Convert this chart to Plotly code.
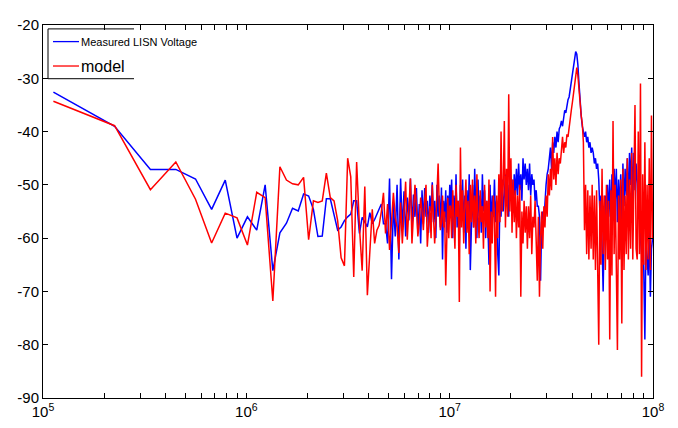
import numpy as np
import plotly.graph_objects as go

# ---------------- data ----------------
BIN_HZ = 112500                      # FFT bin spacing of the spectrum
low_bins = list(range(1, 90))        # individual bins up to ~10 MHz

measured_low = [
    -32.6, -39.0, -47.1, -47.1, -48.9, -54.6, -49.1, -60.0, -56.0, -58.5,
    -50.0, -66.1, -59.0, -57.2, -54.4, -54.9, -51.7, -52.1, -54.6, -59.7,
    -59.6, -52.6, -52.6, -55.5, -58.5, -57.9, -56.7, -56.0, -55.5, -53.0,
    -53.0, -59.1, -56.1, -57.0, -57.9, -55.2, -57.3, -56.5, -55.5, -54.5,
    -53.6, -57.3, -57.3, -61.0, -48.8, -67.7, -53.6, -59.7, -50.0, -64.0,
    -48.8, -58.5, -51.2, -59.7, -52.4, -56.7, -48.8, -57.9, -51.8, -56.0,
    -50.6, -59.1, -53.6, -61.0, -51.0, -57.3, -50.6, -56.0, -53.0, -59.0,
    -52.0, -55.0, -49.5, -57.0, -53.0, -60.0, -50.0, -56.0, -52.0, -58.0,
    -50.5, -64.0, -53.0, -57.0, -51.0, -59.0, -52.0, -56.0, -50.0,
]
model_low = [
    -34.3, -38.9, -50.9, -45.7, -52.7, -60.9, -55.3, -56.2, -61.3, -51.4,
    -52.4, -71.8, -46.6, -49.1, -49.8, -50.0, -48.6, -60.3, -53.0, -53.3,
    -53.0, -47.8, -52.4, -53.0, -56.7, -63.7, -65.2, -45.0, -48.5, -67.3,
    -45.7, -57.9, -66.1, -50.3, -70.7, -62.0, -54.6, -61.0, -58.5, -57.6,
    -55.0, -51.5, -59.1, -53.6, -62.2, -57.0, -51.5, -56.1, -58.0, -62.8,
    -53.3, -61.0, -55.0, -49.4, -60.3, -54.0, -48.8, -61.0, -56.0, -50.0,
    -54.0, -59.7, -57.0, -52.4, -55.0, -58.5, -53.0, -50.0, -61.6, -57.0,
    -54.0, -60.0, -50.0, -56.0, -61.0, -57.0, -52.0, -46.0, -54.0, -58.5,
    -57.0, -52.0, -58.0, -55.0, -68.9, -58.0, -52.4, -60.0, -54.0,
]

# dense part of the spectrum, 10 MHz .. 100 MHz (log-spaced samples)
HIGH_START_HZ = 1.01e7
HIGH_STOP_HZ = 9.95e7
measured_high = [
    -55, -49, -60, -52, -57, -48, -58, -53, -61, -50,
    -56, -49, -59, -52, -62, -51, -57, -48, -66, -54,
    -50, -58, -47, -55, -60, -49, -56, -52, -59, -48,
    -55, -51, -60, -53, -57, -65, -50, -58, -52, -56,
    -49, -57, -53, -63, -67, -51, -56, -49, -55, -52,
    -48, -54, -50, -56, -47, -53, -49, -55, -48, -52,
    -47, -52, -46, -51, -48, -53, -45, -49, -46, -50,
    -47, -51, -46, -52, -48, -50, -49, -53, -51, -54,
    -54, -56, -68, -57, -55, -57, -53, -50, -48, -47,
    -45, -43, -47, -42, -44, -41, -43, -40, -42, -39.5,
    -39, -38, -39, -37, -36, -36.5, -35, -34, -33.5, -32,
    -31, -29, -27.5, -26, -25, -25.5, -27.5, -31, -35, -37,
    -39, -40, -41, -40, -42, -41, -43, -42, -44, -43,
    -44, -46, -45, -47, -46, -49, -55, -52, -60, -70,
    -57, -52, -60, -50, -56, -49, -58, -48, -55, -47,
    -53, -47, -57, -49, -55, -48, -58, -46, -54, -47,
    -52, -45, -55, -44, -50, -43, -54, -44, -51, -46,
    -50, -56, -49, -60, -63, -55, -66, -79, -60, -64,
    -67, -58, -71, -62, -60,
]
model_high = [
    -54, -60, -51, -57, -62, -50, -56, -53, -72, -43,
    -58, -51, -61, -54, -49, -59, -53, -63, -50, -57,
    -49, -58, -52, -61, -48, -56, -60, -51, -57, -54,
    -62, -50, -58, -53, -60, -49, -70, -55, -61, -52,
    -56, -71, -52, -60, -48, -57, -40, -55, -50, -38,
    -58, -47, -56, -33, -55, -45, -59, -49, -57, -51,
    -60, -52, -58, -50, -71, -55, -61, -53, -59, -54,
    -62, -54, -60, -52, -63, -56, -58, -53, -61, -68,
    -56, -71, -60, -55, -62, -54, -58, -52, -56, -48,
    -52, -47, -51, -41, -49, -45, -50, -44, -48, -45,
    -46, -43, -41, -44, -42, -43, -40.5, -41, -39, -38,
    -36, -34.5, -33, -31, -29, -28, -29.5, -31.5, -34.5, -37,
    -38.5, -42, -58.5, -50, -63, -51, -64, -52, -62, -50,
    -64, -52, -66, -51, -63, -80, -53, -65, -47, -63,
    -52, -66, -50, -64, -53, -79, -51, -67, -38, -63,
    -50, -65, -81, -52, -64, -49, -76, -47, -66, -52,
    -63, -45, -64, -49, -62, -44, -64, -50, -35, -62,
    -64, -40, -63, -31, -86, -48, -65, -42, -66, -50,
    -64, -45, -66, -37, -60,
]

series_names = ["Measured LISN Voltage", "model"]
x_major = [1e5, 1e6, 1e7, 1e8]
x_major_labels = ["10<sup>5</sup>", "10<sup>6</sup>", "10<sup>7</sup>", "10<sup>8</sup>"]
x_minor_mult = [2, 3, 4, 5, 6, 7, 8, 9]
y_ticks = [-90, -80, -70, -60, -50, -40, -30, -20]

# ---------------- build ----------------
freq = np.concatenate([
    np.array(low_bins) * BIN_HZ,
    np.geomspace(HIGH_START_HZ, HIGH_STOP_HZ, len(measured_high)),
])
measured = measured_low + measured_high
model = model_low + model_high

BLUE = "#0000ff"
RED = "#ff0000"
FONT = "Liberation Sans, Arial, sans-serif"
LW = 1.5

fig = go.Figure()
fig.add_trace(go.Scatter(x=freq, y=measured, mode="lines", name=series_names[0],
                         line=dict(color=BLUE, width=LW), showlegend=False))
fig.add_trace(go.Scatter(x=freq, y=model, mode="lines", name=series_names[1],
                         line=dict(color=RED, width=LW), showlegend=False))

minor_vals = [v * m for v in x_major[:-1] for m in x_minor_mult]

# page has an 8px body margin: the figure is offset by it
OFF = 8
L, R, T, B = 43, 25, 16, 30          # plot area in page pixels: x 43..653, y 16..398
W, H = 678 - OFF, 428 - OFF
pw, ph = 678 - L - R, 428 - T - B


def px(x):
    return (x - L) / pw


def py(y):
    return (428 - B - y) / ph


shapes = [
    dict(type="line", xref="paper", yref="paper", x0=px(48), x1=px(48), y0=py(20), y1=py(71),
         line=dict(color="black", width=1)),
    dict(type="line", xref="paper", yref="paper", x0=px(48), x1=px(134), y0=py(20), y1=py(20),
         line=dict(color="black", width=1)),
    dict(type="line", xref="paper", yref="paper", x0=px(48), x1=px(134), y0=py(71), y1=py(71),
         line=dict(color="black", width=1)),
    dict(type="line", xref="paper", yref="paper", x0=px(53), x1=px(79), y0=py(33), y1=py(33),
         line=dict(color=BLUE, width=1.3)),
    dict(type="line", xref="paper", yref="paper", x0=px(53), x1=px(79), y0=py(58), y1=py(58),
         line=dict(color=RED, width=1.3)),
]
annotations = [
    dict(xref="paper", yref="paper", x=px(79), y=py(33), text=series_names[0], showarrow=False,
         xanchor="left", yanchor="middle", font=dict(family=FONT, size=11, color="black")),
    dict(xref="paper", yref="paper", x=px(79), y=py(58), text=series_names[1], showarrow=False,
         xanchor="left", yanchor="middle", font=dict(family=FONT, size=16, color="black")),
]

fig.update_layout(
    width=W, height=H,
    margin=dict(l=L - OFF, r=R, t=T - OFF, b=B, pad=0),
    paper_bgcolor="white", plot_bgcolor="white",
    shapes=shapes, annotations=annotations,
    xaxis=dict(type="log", range=[5, 8], tickvals=x_major, ticktext=x_major_labels,
               ticks="inside", ticklen=5, tickcolor="black", showline=True,
               linecolor="black", linewidth=1, mirror="ticks", showgrid=False,
               zeroline=False, ticklabeloverflow="allow",
               tickfont=dict(family=FONT, size=15, color="black"),
               minor=dict(tickmode="array", tickvals=minor_vals, ticks="inside",
                          ticklen=5, tickcolor="black", showgrid=False)),
    xaxis2=dict(type="log", range=[5, 8], overlaying="x", side="top", anchor="y",
                tickvals=minor_vals, showticklabels=False, ticks="inside", ticklen=5,
                tickcolor="black", showline=False, showgrid=False, zeroline=False),
    yaxis=dict(range=[-90, -20], tickvals=y_ticks, ticktext=[str(v) for v in y_ticks],
               ticks="inside", ticklen=5, tickcolor="black", showline=True,
               linecolor="black", linewidth=1, mirror="ticks", showgrid=False,
               zeroline=False, ticklabeloverflow="allow",
               tickfont=dict(family=FONT, size=15, color="black")),
)

fig.write_html("out.html")
